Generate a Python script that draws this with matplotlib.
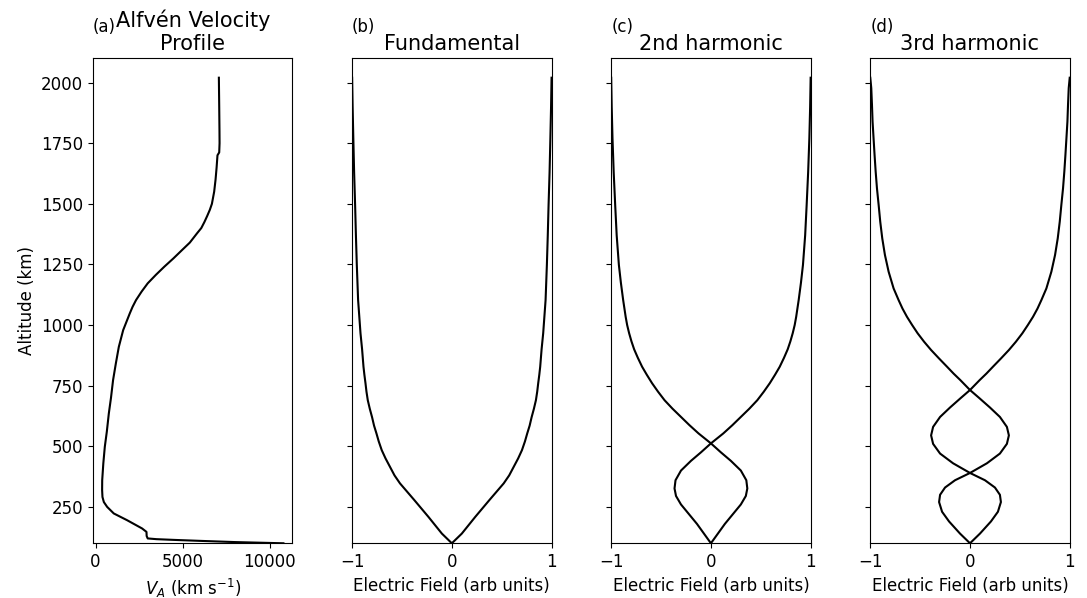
import numpy as np
import matplotlib.pyplot as plt

plt.rcParams['font.size'] = 12

# Alfven velocity profile (altitude in km, speed in km/s)
va_alt = [2020, 1900, 1800, 1750, 1712, 1700, 1650, 1600, 1550, 1500, 1475, 1450, 1425,
          1400, 1378, 1340, 1309, 1275, 1241, 1207, 1172, 1138, 1103, 1075, 1048, 979,
          910, 842, 773, 700, 635, 560, 498, 430, 360, 320, 291, 270, 250, 223, 195, 161,
          147, 130, 120, 117, 114, 110, 105, 100]
va_speed = [7090, 7110, 7125, 7130, 7110, 7010, 6960, 6900, 6820, 6690, 6570, 6420, 6260,
            6080, 5832, 5420, 4970, 4480, 3960, 3470, 3000, 2650, 2330, 2130, 1970, 1590,
            1340, 1170, 1010, 890, 765, 650, 535, 450, 385, 380, 400, 480, 670, 1050, 1820,
            2680, 2930, 2940, 3000, 3500, 4500, 6000, 8000, 10800]

# electric field eigenfunctions, normalised to 1 at the top
fund_alt = [100, 140, 209, 278, 347, 380, 415, 450, 484, 520, 553, 585, 620, 655, 690,
            725, 760, 795, 828, 900, 966, 1103, 1248, 1370, 1495, 1630, 1770, 1900, 2020]
fund_e = [0, 0.10, 0.235, 0.376, 0.52, 0.575, 0.62, 0.665, 0.703, 0.733, 0.756, 0.78,
          0.80, 0.823, 0.843, 0.856, 0.866, 0.877, 0.886, 0.90, 0.916, 0.94, 0.953, 0.962,
          0.97, 0.98, 0.988, 0.995, 1.0]

h2_alt = [100, 140, 180, 220, 260, 295, 326, 360, 400, 440, 475, 512, 553, 587, 621,
          655, 690, 725, 760, 795, 828, 865, 900, 933, 966, 1000, 1034, 1070, 1103,
          1175, 1248, 1370, 1495, 1630, 1770, 1900, 2020]
h2_e = [0, -0.07, -0.14, -0.22, -0.30, -0.35, -0.365, -0.355, -0.30, -0.20, -0.10, 0,
        0.124, 0.215, 0.30, 0.385, 0.465, 0.53, 0.59, 0.643, 0.69, 0.733, 0.77, 0.797,
        0.82, 0.84, 0.855, 0.868, 0.88, 0.903, 0.923, 0.945, 0.96, 0.975, 0.987, 0.995, 1.0]

h3_alt = [100, 140, 190, 230, 270, 300, 330, 360, 390, 430, 470, 510, 545, 580, 621,
          660, 700, 732, 773, 800, 828, 862, 897, 931, 966, 1000, 1034, 1068, 1103, 1151,
          1220, 1289, 1358, 1426, 1495, 1564, 1633, 1702, 1770, 1839, 1908, 1977, 2020]
h3_e = [0, 0.10, 0.21, 0.28, 0.31, 0.30, 0.25, 0.15, 0, -0.17, -0.30, -0.37, -0.39,
        -0.37, -0.30, -0.20, -0.09, 0, 0.097, 0.165, 0.23, 0.31, 0.39, 0.46, 0.525, 0.58,
        0.632, 0.677, 0.716, 0.766, 0.816, 0.853, 0.88, 0.90, 0.916, 0.933, 0.946, 0.957,
        0.967, 0.977, 0.983, 0.99, 1.0]

alt_ticks = [250, 500, 750, 1000, 1250, 1500, 1750, 2000]
va_ticks = [0, 5000, 10000]
e_ticks = [-1, 0, 1]

fig, axs = plt.subplots(1, 4, figsize=(10.87, 5.98), dpi=100, sharey=True)
fig.subplots_adjust(left=0.0856, right=0.9841, bottom=0.0915, top=0.9025, wspace=0.299)

ax = axs[0]
ax.plot(va_speed, va_alt, color='k', lw=1.5)
ax.set_xticks(va_ticks)
ax.set_xlabel(r'$V_A$ (km s$^{-1}$)')
ax.set_ylabel('Altitude (km)')
ax.set_title('Alfvén Velocity\nProfile', fontsize=15)
ax.set_yticks(alt_ticks)
ax.set_ylim(100, 2100)

modes = [(fund_alt, fund_e, 'Fundamental'),
         (h2_alt, h2_e, '2nd harmonic'),
         (h3_alt, h3_e, '3rd harmonic')]
for ax, (z, e, name) in zip(axs[1:], modes):
    e = np.array(e)
    ax.plot(e, z, color='k', lw=1.5)
    ax.plot(-e, z, color='k', lw=1.5)
    ax.set_xlim(-1, 1)
    ax.set_xticks(e_ticks)
    ax.set_xlabel('Electric Field (arb units)')
    ax.set_title(name, fontsize=15)

for ax, lab in zip(axs, ['(a)', '(b)', '(c)', '(d)']):
    ax.text(0, 1.045, lab, transform=ax.transAxes, fontsize=12, ha='left', va='bottom')

plt.savefig('out.png')
